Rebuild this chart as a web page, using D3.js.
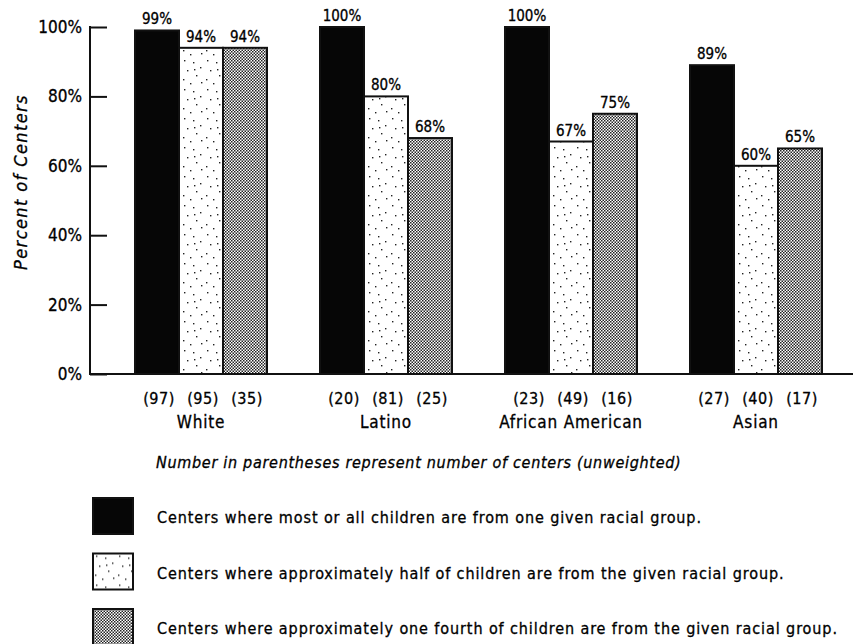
<!DOCTYPE html>
<html>
<head>
<meta charset="utf-8">
<script src="https://cdn.jsdelivr.net/npm/d3@7"></script>
<style>
  body { margin: 0; background: #fff; }
  text { font-family: "DejaVu Sans Condensed", "Liberation Sans Narrow", sans-serif; fill: #000; stroke: #000; stroke-width: 0.3px; }
</style>
</head>
<body>
<script>
// Data
const groups = ["White", "Latino", "African American", "Asian"];
const series = ["most", "half", "fourth"];
const percents = [
  [99, 94, 94],
  [100, 80, 68],
  [100, 67, 75],
  [89, 60, 65]
];
const counts = [
  [97, 95, 35],
  [20, 81, 25],
  [23, 49, 16],
  [27, 40, 17]
];
const yTicks = [0, 20, 40, 60, 80, 100];
const legendLabels = [
  "Centers where most or all children are from one given racial group.",
  "Centers where approximately half of children are from the given racial group.",
  "Centers where approximately one fourth of children are from the given racial group."
];

const width = 853, height = 644;
const svg = d3.select("body").append("svg")
  .attr("width", width)
  .attr("height", height);

// Fill patterns
const defs = svg.append("defs");
const light = defs.append("pattern")
  .attr("id", "light")
  .attr("patternUnits", "userSpaceOnUse")
  .attr("width", 23).attr("height", 29);
light.append("rect").attr("width", 23).attr("height", 29).attr("fill", "#fff");
[[3, 2], [12, 4], [19, 9], [6, 12], [15, 17], [2, 21], [9, 25], [20, 24], [13, 11]].forEach(([x, y]) => {
  light.append("rect").attr("x", x).attr("y", y).attr("width", 1.4).attr("height", 1.4).attr("fill", "#222");
});

const dense = defs.append("pattern")
  .attr("id", "dense")
  .attr("patternUnits", "userSpaceOnUse")
  .attr("width", 3).attr("height", 3);
dense.append("rect").attr("width", 3).attr("height", 3).attr("fill", "#fff");
dense.append("rect").attr("width", 1.5).attr("height", 1.5).attr("fill", "#222");
dense.append("rect").attr("x", 1.5).attr("y", 1.5).attr("width", 1.5).attr("height", 1.5).attr("fill", "#222");

const fills = { most: "#060606", half: "url(#light)", fourth: "url(#dense)" };

// Scales
const y = d3.scaleLinear().domain([0, 100]).range([374, 27]);
const x0 = d3.scaleBand().domain(groups).range([135, 822]).paddingInner(0.2865).paddingOuter(0);
const x1 = d3.scaleBand().domain(series).range([0, x0.bandwidth()]);

// Y axis
const yAxis = svg.append("g")
  .attr("transform", "translate(90,0)")
  .call(d3.axisRight(y).tickValues(yTicks).tickSize(17).tickFormat(d => d + "%"));
yAxis.select(".domain").remove();
yAxis.selectAll(".tick line").attr("stroke", "#111").attr("stroke-width", 2);
yAxis.selectAll(".tick text")
  .attr("x", -8)
  .attr("text-anchor", "end")
  .attr("font-size", 17)
  .attr("fill", "#000");

svg.append("line")
  .attr("x1", 90).attr("x2", 90)
  .attr("y1", y(100) - 1).attr("y2", y(0) + 1)
  .attr("stroke", "#111").attr("stroke-width", 2);

svg.append("text")
  .attr("transform", "translate(27,182) rotate(-90)")
  .attr("text-anchor", "middle")
  .attr("font-size", 18)
  .attr("letter-spacing", 1.4)
  .attr("font-style", "italic")
  .text("Percent of Centers");

// Bars
const groupG = svg.append("g")
  .selectAll("g")
  .data(groups)
  .join("g")
  .attr("transform", d => `translate(${x0(d)},0)`);

const bars = groupG.selectAll("g.bar")
  .data((g, gi) => series.map((s, si) => ({ s, v: percents[gi][si], n: counts[gi][si] })))
  .join("g")
  .attr("class", "bar");

bars.append("rect")
  .attr("x", d => x1(d.s))
  .attr("y", d => y(d.v))
  .attr("width", x1.bandwidth())
  .attr("height", d => y(0) - y(d.v))
  .attr("fill", d => fills[d.s])
  .attr("stroke", "#111")
  .attr("stroke-width", 2);

bars.append("text")
  .attr("x", d => x1(d.s) + x1.bandwidth() / 2)
  .attr("y", d => y(d.v) - 6)
  .attr("text-anchor", "middle")
  .attr("font-size", 15)
  .text(d => d.v + "%");

bars.append("text")
  .attr("x", d => x1(d.s) + x1.bandwidth() / 2 + 2)
  .attr("y", 404)
  .attr("text-anchor", "middle")
  .attr("font-size", 16)
  .attr("letter-spacing", 0.5)
  .text(d => `(${d.n})`);

groupG.append("text")
  .attr("x", x0.bandwidth() / 2)
  .attr("y", 428)
  .attr("text-anchor", "middle")
  .attr("font-size", 17)
  .attr("letter-spacing", 0.8)
  .text(d => d);

// X axis baseline
svg.append("line")
  .attr("x1", 89).attr("x2", 853)
  .attr("y1", y(0)).attr("y2", y(0))
  .attr("stroke", "#111").attr("stroke-width", 2);

svg.append("text")
  .attr("x", 156).attr("y", 468)
  .attr("font-size", 16)
  .attr("letter-spacing", 0.7)
  .attr("font-style", "italic")
  .text("Number in parentheses represent number of centers (unweighted)");

// Legend
const legend = svg.append("g")
  .selectAll("g")
  .data(series)
  .join("g")
  .attr("transform", (d, i) => `translate(93,${498 + i * 55.5})`);

legend.append("rect")
  .attr("width", 40).attr("height", 36)
  .attr("fill", d => fills[d])
  .attr("stroke", "#111")
  .attr("stroke-width", 2);

legend.append("text")
  .attr("x", 64).attr("y", 25)
  .attr("font-size", 16)
  .attr("letter-spacing", 0.9)
  .text((d, i) => legendLabels[i]);
</script>
</body>
</html>
